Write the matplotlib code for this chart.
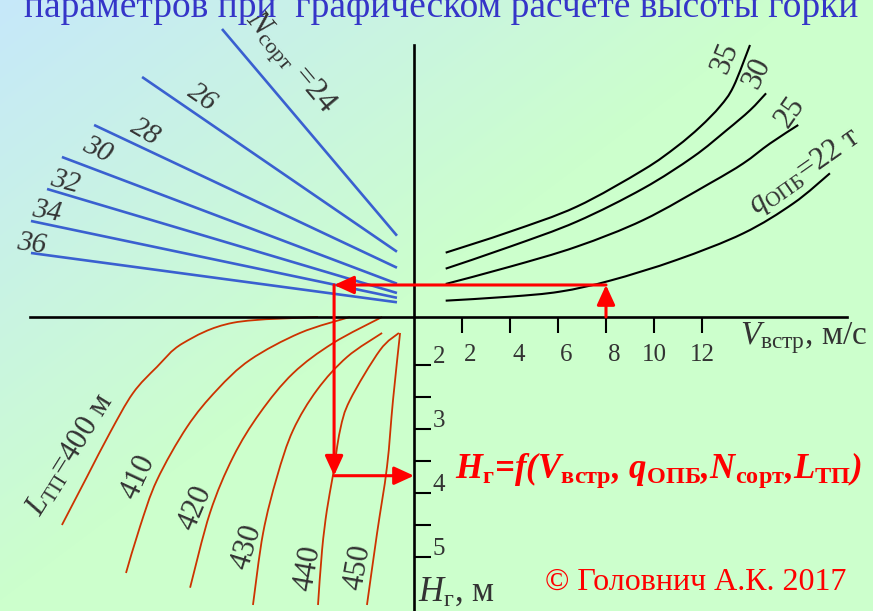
import numpy as np
import matplotlib
matplotlib.use("Agg")
import matplotlib.pyplot as plt
from matplotlib.path import Path
from matplotlib.patches import PathPatch

plt.rcParams["font.family"] = ["Liberation Serif", "DejaVu Serif"]
plt.rcParams["mathtext.fontset"] = "custom"
plt.rcParams["mathtext.rm"] = "Liberation Serif"
plt.rcParams["mathtext.it"] = "Liberation Serif:italic"
plt.rcParams["mathtext.bf"] = "Liberation Serif:bold"

TITLE = "параметров при  графическом расчете высоты горки"

# x: encounter speed V, m/s (0 at the vertical axis); y: hump height H, m (down)
v_ticks = [2, 4, 6, 8, 10, 12]
h_ticks = [2, 3, 4, 5]
h_minor = [2.5, 3.5, 4.5]
axis_h = 1.25

# sorting-track count lines, upper left quadrant
n_sort = [24, 26, 28, 30, 32, 34, 36]
n_start_v = [-8.0, -11.33, -13.33, -14.67, -15.29, -15.96, -15.96]
n_start_h = [-3.25, -2.5, -1.75, -1.25, -0.75, -0.25, 0.25]
n_end_v = -0.71
n_end_h = [-0.02, 0.23, 0.48, 0.73, 0.875, 0.95, 1.02]

# car weight curves q_OPB, upper right quadrant
q_values = [35, 30, 25, 22]
q_v = {
    35: [1.32, 4.0, 6.78, 9.56, 10.94, 11.92, 12.75, 13.31, 14.0],
    30: [1.32, 4.0, 6.78, 9.56, 11.64, 13.03, 14.0, 14.67],
    25: [1.32, 4.0, 6.78, 9.56, 12.33, 13.72, 14.83, 16.01],
    22: [1.32, 4.0, 6.08, 8.17, 10.94, 13.72, 15.81, 17.33],
}
q_h = {
    35: [0.245, -0.083, -0.474, -1.05, -1.41, -1.72, -2.04, -2.35, -3.0],
    30: [0.495, 0.151, -0.24, -0.76, -1.255, -1.67, -1.98, -2.245],
    25: [0.734, 0.464, 0.151, -0.266, -0.839, -1.15, -1.46, -1.75],
    22: [0.995, 0.932, 0.854, 0.682, 0.359, -0.057, -0.526, -0.995],
}

# track-section length curves L_TP, lower left quadrant
l_values = [400, 410, 420, 430, 440, 450]
l_v = {
    400: [-4.0, -7.54, -9.63, -10.71, -11.71, -12.67, -13.63, -14.67],
    410: [-2.67, -4.75, -6.83, -8.21, -9.46, -10.71, -11.42, -12.0],
    420: [-1.33, -3.38, -5.04, -6.42, -7.54, -8.5, -9.33],
    430: [-1.33, -2.79, -4.04, -5.04, -5.71, -6.29, -6.71],
    440: [-0.63, -1.42, -2.67, -3.08, -3.375, -3.63, -3.83, -4.0],
    450: [-0.58, -0.875, -1.125, -1.54, -1.96],
}
l_h = {
    400: [1.25, 1.34, 1.66, 2.03, 2.44, 3.06, 3.75, 4.5],
    410: [1.25, 1.5, 1.92, 2.39, 2.97, 3.8, 4.53, 5.25],
    420: [1.25, 1.66, 2.13, 2.75, 3.44, 4.31, 5.48],
    430: [1.5, 1.875, 2.39, 3.02, 3.75, 4.63, 5.75],
    440: [1.5, 1.77, 2.55, 3.02, 3.72, 4.27, 4.89, 5.75],
    450: [1.5, 2.55, 3.59, 4.63, 5.75],
}

# worked example: V = 8 m/s -> q = 22 t -> N = 36 -> L = 440 m -> H
route_v = [8, 8, -3.33, -3.33, 0]
route_h = [axis_h, 0.75, 0.75, 3.73, 3.73]

TEXT = "#333333"
BLUE = "#3a60d0"
RUST = "#cc3300"
RED = "#ff0000"


def smooth_curve(xs, ys):
    """Catmull-Rom style cubic Bezier path through the given points."""
    pts = np.column_stack([xs, ys]).astype(float)
    p = np.vstack([pts[0], pts, pts[-1]])
    verts = [pts[0]]
    codes = [Path.MOVETO]
    for i in range(1, len(p) - 2):
        p0, p1, p2, p3 = p[i - 1], p[i], p[i + 1], p[i + 2]
        verts += [p1 + (p2 - p0) / 6, p2 - (p3 - p1) / 6, p2]
        codes += [Path.CURVE4] * 3
    return Path(verts, codes)


fig = plt.figure(figsize=(8.73, 6.11), dpi=100)

# soft blue-to-green slide background
bg = fig.add_axes([0, 0, 1, 1])
bg.axis("off")
yy, xx = np.mgrid[0:611, 0:873]
t = np.clip(xx / 800 + yy / 600, 0, 1)[..., None]
c0 = np.array([198, 232, 250]) / 255
c1 = np.array([204, 255, 204]) / 255
bg.imshow(c0 + (c1 - c0) * t, aspect="auto", interpolation="bilinear")

ax = fig.add_axes([0, 0, 1, 1])
ax.patch.set_alpha(0)
ax.set_xlim(-17.25, 19.125)
ax.set_ylim(5.844, -3.703)

for s in ["top", "right"]:
    ax.spines[s].set_visible(False)
ax.spines["left"].set_position(("data", 0))
ax.spines["bottom"].set_position(("data", axis_h))
ax.spines["left"].set_bounds(-3.0, 5.844)
ax.spines["bottom"].set_bounds(-16.0, 18.04)
for s in ["left", "bottom"]:
    ax.spines[s].set_linewidth(1.9)
ax.set_xticks(v_ticks)
ax.set_xticklabels([])
ax.set_yticks(h_ticks)
ax.set_yticks(h_minor, minor=True)
ax.set_yticklabels([])
ax.tick_params(axis="x", direction="out", length=11.5, width=1.5)
ax.tick_params(axis="y", which="both", direction="in", length=12, width=1.5)

for v in v_ticks:
    ax.annotate(str(v), (v, 1.84), xytext=(6 if v < 10 else 0, 0),
                textcoords="offset points", ha="center", va="center",
                fontsize=18, color=TEXT)
for h in h_ticks:
    ax.text(0.79, h - 0.03, str(h), ha="left", va="baseline",
            fontsize=18, color=TEXT)

for n, v0, h0, h1 in zip(n_sort, n_start_v, n_start_h, n_end_h):
    ax.plot([v0, n_end_v], [h0, h1], color=BLUE, lw=1.9, solid_capstyle="butt")

for q in q_values:
    ax.add_patch(PathPatch(smooth_curve(q_v[q], q_h[q]), fill=False,
                           edgecolor="black", lw=1.5))

for L in l_values:
    ax.add_patch(PathPatch(smooth_curve(l_v[L], l_h[L]), fill=False,
                           edgecolor=RUST, lw=1.3))

# labels of the families
n_lab_pos = [(-5.2, -2.72), (-8.83, -2.17), (-11.21, -1.64), (-13.21, -1.36),
             (-14.54, -0.86), (-15.29, -0.39), (-15.92, 0.11)]
n_lab_rot = [-50, -35, -30, -25, -15, -10, -8]
for n, (x, y), r in zip(n_sort, n_lab_pos, n_lab_rot):
    if n == 24:
        s = r"$N_{\mathrm{сорт}}$" + " =24"
        ax.text(x, y, s, rotation=r, rotation_mode="anchor", ha="center",
                va="center", fontsize=23, color=TEXT)
    else:
        ax.text(x, y, str(n), rotation=r, rotation_mode="anchor", ha="center",
                va="center", fontsize=21, style="italic", color=TEXT)

q_lab_pos = [(12.96, -2.80), (14.29, -2.56), (15.67, -1.95), (16.29, -1.02)]
q_lab_rot = [68, 65, 55, 35]
for q, (x, y), r in zip(q_values, q_lab_pos, q_lab_rot):
    s = r"$q_{\mathrm{ОПБ}}$=22 т" if q == 22 else str(q)
    ax.text(x, y, s, rotation=r, rotation_mode="anchor", ha="center",
            va="center", fontsize=22, color=TEXT)

l_lab_pos = [(-14.33, 3.41), (-11.5, 3.75), (-9.125, 4.23), (-6.96, 4.84),
             (-4.42, 5.17), (-2.33, 5.16)]
l_lab_rot = [58, 65, 67, 73, 80, 80]
for L, (x, y), r in zip(l_values, l_lab_pos, l_lab_rot):
    s = r"$L_{\mathrm{ТП}}$=400 м" if L == 400 else str(L)
    ax.text(x, y, s, rotation=r, rotation_mode="anchor", ha="center",
            va="center", fontsize=22, color=TEXT)

# red reading path with arrowheads
for i in range(len(route_v) - 1):
    ax.annotate("", xy=(route_v[i + 1], route_h[i + 1]),
                xytext=(route_v[i], route_h[i]),
                arrowprops=dict(arrowstyle="-|>,head_length=1.2,head_width=0.55",
                                mutation_scale=10, color=RED, lw=2.2,
                                shrinkA=0, shrinkB=0), zorder=5)

ax.text(13.58, 1.58, r"$V_{\mathrm{встр}}$, м/с", ha="left", va="center",
        fontsize=24, color=TEXT)
ax.text(0.17, 5.55, r"$H_{\mathrm{г}}$, м", ha="left", va="center",
        fontsize=25, color=TEXT)
ax.text(1.71, 3.64,
        r"H$_{\mathbf{г}}$=f(V$_{\mathbf{встр}}$, q$_{\mathbf{ОПБ}}$,"
        r"N$_{\mathbf{сорт}}$,L$_{\mathbf{ТП}}$)",
        ha="left", va="center", fontsize=25, fontweight="bold",
        style="italic", color=RED)
ax.text(5.46, 5.39, "© Головнич А.К. 2017", ha="left", va="center",
        fontsize=23, color=RED)

fig.text(0.505, 1 - 17 / 611, TITLE, ha="center", va="baseline",
         fontsize=27, color="#3535c8")

fig.savefig("out.png", dpi=100)
